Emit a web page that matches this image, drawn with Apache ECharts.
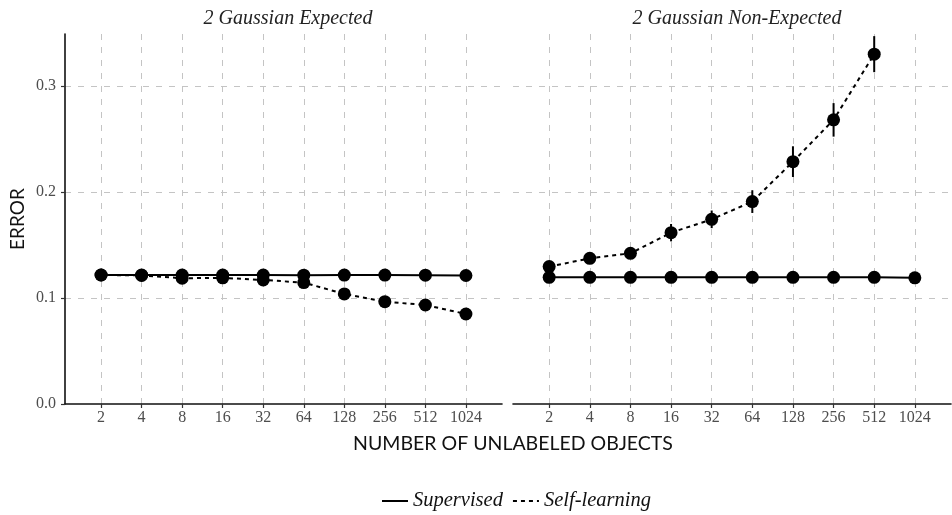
<!DOCTYPE html>
<html><head><meta charset="utf-8">
<script src="https://cdn.jsdelivr.net/npm/echarts@6/dist/echarts.min.js"></script>
<style>html,body{margin:0;padding:0;background:#fff}#c{width:952px;height:515px}</style>
</head><body><div id="c"></div>
<script>
const xLabels = ['2','4','8','16','32','64','128','256','512','1024'];
const yTicks = [0, 0.1, 0.2, 0.3];
const panelTitles = ['2 Gaussian Expected', '2 Gaussian Non-Expected'];
const xAxisTitle = 'NUMBER OF UNLABELED OBJECTS';
const yAxisTitle = 'ERROR';
const seriesNames = ['Supervised', 'Self-learning'];
// Panel 1: 2 Gaussian Expected
const expSupervised = [0.1217, 0.1217, 0.1216, 0.1216, 0.1216, 0.1215, 0.1216, 0.1216, 0.1215, 0.1212];
const expSelf       = [0.1217, 0.1213, 0.1186, 0.1190, 0.1170, 0.1145, 0.1038, 0.0965, 0.0934, 0.0849];
// Panel 2: 2 Gaussian Non-Expected
const nonSupervised = [0.1195, 0.1195, 0.1195, 0.1195, 0.1195, 0.1195, 0.1195, 0.1195, 0.1195, 0.1190];
const nonSelf       = [0.1296, 0.1374, 0.1421, 0.1616, 0.1742, 0.1909, 0.2286, 0.2680, 0.3300];
const nonSelfErr    = [0.0040, 0.0045, 0.0050, 0.0082, 0.0083, 0.0107, 0.0145, 0.0158, 0.0170];

const idx = xLabels.map((_, i) => i);
const toPts = arr => arr.map((v, i) => [i, v]);
const SERIF = '"Liberation Serif", "DejaVu Serif", serif';
const SANS = 'Lato, "Noto Sans", sans-serif';
const gridLine = {show: true, lineStyle: {color: '#c4c4c4', width: 1, type: [6, 7]}};

function xAxisFor(g) {
  return {
    type: 'value', gridIndex: g, min: -0.89, max: 9.89,
    axisLine: {show: true, onZero: false, lineStyle: {color: '#111', width: 1.6}},
    axisTick: {show: true, customValues: idx, length: 4, lineStyle: {color: '#333', width: 1.2}},
    axisLabel: {customValues: idx, formatter: v => xLabels[Math.round(v)], color: '#4d4d4d',
      fontFamily: SERIF, fontSize: 16, margin: 6},
    splitLine: gridLine
  };
}
function yAxisFor(g, showAxis) {
  return {
    type: 'value', gridIndex: g, min: 0, max: 0.349,
    name: showAxis ? yAxisTitle : '', nameLocation: 'middle', nameRotate: 90, nameGap: 38,
    nameTextStyle: {fontFamily: SANS, fontSize: 19, color: '#111'},
    axisLine: {show: showAxis, onZero: false, lineStyle: {color: '#111', width: 1.6}},
    axisTick: {show: showAxis, customValues: yTicks, length: 4, lineStyle: {color: '#333', width: 1.2}},
    axisLabel: {show: showAxis, customValues: yTicks, formatter: v => v.toFixed(1), color: '#4d4d4d',
      fontFamily: SERIF, fontSize: 16, margin: 9},
    splitLine: Object.assign({showMinLine: false}, gridLine)
  };
}
function lineSeries(name, g, arr, dashed) {
  return {
    type: 'line', name: name, xAxisIndex: g, yAxisIndex: g, data: toPts(arr),
    symbol: 'circle', symbolSize: 13, color: '#000',
    itemStyle: {color: '#000'},
    lineStyle: {color: '#000', width: 2, type: dashed ? [4, 4] : 'solid'},
    z: 3
  };
}
function errSeries(g, arr, err) {
  return {
    type: 'custom', xAxisIndex: g, yAxisIndex: g, z: 2, silent: true,
    data: arr.map((v, i) => [i, v - err[i], v + err[i]]),
    renderItem: (params, api) => {
      const lo = api.coord([api.value(0), api.value(1)]);
      const hi = api.coord([api.value(0), api.value(2)]);
      return {type: 'line', shape: {x1: lo[0], y1: lo[1], x2: hi[0], y2: hi[1]},
        style: {stroke: '#000', lineWidth: 2}};
    }
  };
}

const chart = echarts.init(document.getElementById('c'), null, {renderer: 'canvas'});
chart.setOption({
  animation: false,
  backgroundColor: '#fff',
  title: [
    {text: panelTitles[0], left: 283, top: 4, textAlign: 'center',
      textStyle: {fontFamily: SERIF, fontStyle: 'italic', fontWeight: 'normal', fontSize: 20, color: '#222'}},
    {text: panelTitles[1], left: 732, top: 4, textAlign: 'center',
      textStyle: {fontFamily: SERIF, fontStyle: 'italic', fontWeight: 'normal', fontSize: 20, color: '#222'}},
    {text: xAxisTitle, left: 508, top: 429, textAlign: 'center',
      textStyle: {fontFamily: SANS, fontWeight: 'normal', fontSize: 19.5, color: '#111'}}
  ],
  legend: {
    data: seriesNames, left: 376, top: 486, itemWidth: 26, itemHeight: 14, itemGap: 9,
    itemStyle: {opacity: 0},
    textStyle: {fontFamily: SERIF, fontStyle: 'italic', fontSize: 20.5, color: '#111'}
  },
  grid: [
    {left: 65, right: 450, top: 34, bottom: 111, containLabel: false},
    {left: 513, right: 1, top: 34, bottom: 111, containLabel: false}
  ],
  xAxis: [xAxisFor(0), xAxisFor(1)],
  yAxis: [yAxisFor(0, true), yAxisFor(1, false)],
  series: [
    lineSeries(seriesNames[0], 0, expSupervised, false),
    lineSeries(seriesNames[1], 0, expSelf, true),
    lineSeries(seriesNames[0], 1, nonSupervised, false),
    lineSeries(seriesNames[1], 1, nonSelf, true),
    errSeries(1, nonSelf, nonSelfErr)
  ]
});
</script></body></html>
